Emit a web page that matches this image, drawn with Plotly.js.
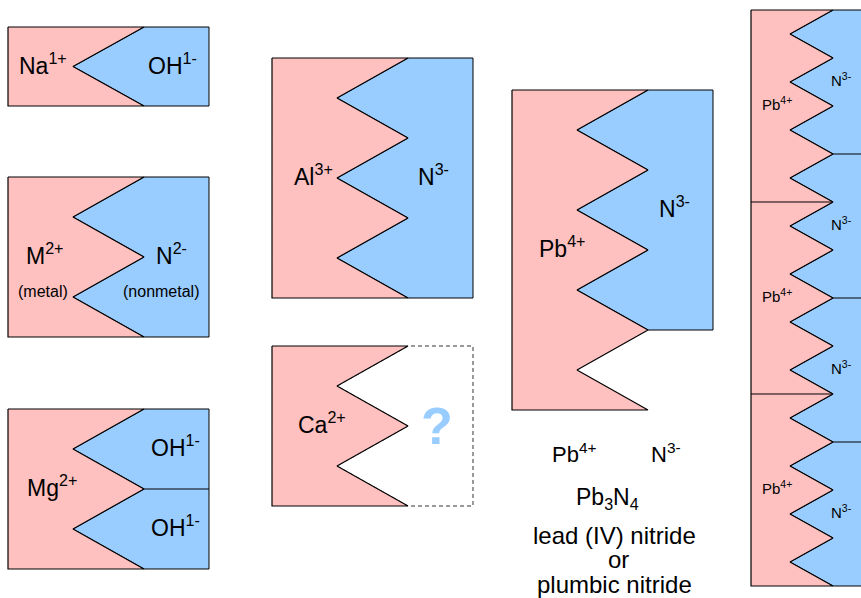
<!DOCTYPE html>
<html><head><meta charset="utf-8">
<script src="https://cdn.plot.ly/plotly-3.0.1.min.js"></script>
<style>html,body{margin:0;padding:0;background:#fff;}#chart{width:861px;height:598px;}</style>
</head><body><div id="chart"></div>
<script>
// ---------------- data ----------------
const cations = ['Na','M','Mg','Al','Ca','Pb','Pb'];
const cationCharges = [1,2,2,3,2,4,4];
const cationCounts = [1,1,1,1,1,1,3];
const anions = ['OH','N','OH','N','?','N','N'];
const anionCharges = [1,2,1,3,2,3,3];
const anionCounts = [1,1,2,1,1,1,4];
const anionKnown = [true,true,true,true,false,true,true];
const cationNotes = ['','(metal)','','','','',''];
const anionNotes = ['','(nonmetal)','','','','',''];
const summaryPanel = 6;
const compoundName = ['lead (IV) nitride','or','plumbic nitride'];

// ---------------- layout (geometry / styles) ----------------
const panelLeft = [8,8,8,272,272,512,751];
const panelTop = [27,177,409,58,346,90,10];
const toothH = [79,80,80,80,80,80,48];
const tipIn = [65,65,65,65,65,65,39];
const vOut = [136,136,136,136,136,136,82];
const panelW = [201,201,201,201,201,201,140];
const catLabelX = [43,45,52,313,322,562,777];
const anLabelX = [172,171,175,433,437,674,841];
const labelFont = [23,23,23,23,23,23,15];
const noteDy = 37;
const labelDy = -3;
const PINK = '#FFC0C0', BLUE = '#99CCFF', INK = '#000000';
const FONT = 'Liberation Sans, Arial, sans-serif';

const traces = [];
const annotations = [];

function zig(p, n) {
  const xs = [], ys = [];
  const L = panelLeft[p], T = panelTop[p], h = toothH[p];
  xs.push(L + vOut[p]); ys.push(T);
  for (let i = 0; i < n; i++) {
    xs.push(L + tipIn[p]); ys.push(T + (i + 0.5) * h);
    xs.push(L + vOut[p]); ys.push(T + (i + 1) * h);
  }
  return [xs, ys];
}
function addLine(xs, ys, w, dash) {
  traces.push({type:'scatter', mode:'lines', x:xs, y:ys, hoverinfo:'skip',
    line:{color:INK, width:w, dash:dash||'solid'}});
}
function ann(x, y, text, size, color, bold) {
  annotations.push({x:x, y:y, xref:'x', yref:'y', text: bold ? '<b>'+text+'</b>' : text,
    showarrow:false, xanchor:'center', yanchor:'middle',
    font:{family:FONT, size:size, color:color||INK}});
}

for (let p = 0; p < cations.length; p++) {
  const L = panelLeft[p], T = panelTop[p], h = toothH[p];
  const nC = cationCharges[p] * cationCounts[p];
  const nA = anionCharges[p] * anionCounts[p];
  // anion polygon
  const [ax, ay] = zig(p, nA);
  const axs = ax.concat([L + panelW[p], L + panelW[p], L + vOut[p]]);
  const ays = ay.concat([T + nA * h, T, T]);
  traces.push({type:'scatter', mode:'lines', x:axs, y:ays, fill:'toself',
    fillcolor: anionKnown[p] ? BLUE : 'rgba(255,255,255,0)', hoverinfo:'skip',
    line:{color: anionKnown[p] ? INK : '#333333', width:1, dash: anionKnown[p] ? 'solid' : '4px,3px'}});
  // cation polygon
  const [cx, cy] = zig(p, nC);
  const cxs = [L].concat(cx).concat([L, L]);
  const cys = [T].concat(cy).concat([T + nC * h, T]);
  traces.push({type:'scatter', mode:'lines', x:cxs, y:cys, fill:'toself',
    fillcolor: PINK, hoverinfo:'skip', line:{color:INK, width:1.2}});
  // separators between units
  for (let j = 1; j < cationCounts[p]; j++) {
    const y = T + j * cationCharges[p] * h;
    addLine([L, L + vOut[p]], [y, y], 1.2);
  }
  for (let j = 1; j < anionCounts[p]; j++) {
    const y = T + j * anionCharges[p] * h;
    addLine([L + vOut[p], L + panelW[p]], [y, y], 1.2);
  }
  // labels
  for (let j = 0; j < cationCounts[p]; j++) {
    const yc = T + (j + 0.5) * cationCharges[p] * h + labelDy;
    ann(catLabelX[p], yc, cations[p] + '<sup>' + cationCharges[p] + '+</sup>', labelFont[p]);
    if (cationNotes[p]) ann(catLabelX[p] - 2, yc + noteDy, cationNotes[p], 16);
  }
  for (let j = 0; j < anionCounts[p]; j++) {
    const yc = T + (j + 0.5) * anionCharges[p] * h + labelDy;
    if (anionKnown[p]) {
      ann(anLabelX[p], yc, anions[p] + '<sup>' + anionCharges[p] + '-</sup>', labelFont[p]);
    } else {
      ann(anLabelX[p], yc + 3, anions[p], 52, BLUE, true);
    }
    if (anionNotes[p]) ann(anLabelX[p] - 10, yc + noteDy, anionNotes[p], 16);
  }
}

// summary text under the Pb / N panel
const s = 5;
ann(574, 453, cations[s] + '<sup>' + cationCharges[s] + '+</sup>', 22);
ann(666, 453, anions[s] + '<sup>' + anionCharges[s] + '-</sup>', 22);
const p6 = summaryPanel;
ann(607, 498, cations[p6] + '<sub>' + cationCounts[p6] + '</sub>' + anions[p6] + '<sub>' + anionCounts[p6] + '</sub>', 23);
ann(614, 535, compoundName[0], 24);
ann(618, 559, compoundName[1], 24);
ann(614, 584, compoundName[2], 24);

const layout = {
  width:861, height:598, margin:{l:0,r:0,t:0,b:0},
  paper_bgcolor:'#ffffff', plot_bgcolor:'#ffffff', showlegend:false,
  xaxis:{range:[0,861], visible:false, fixedrange:true},
  yaxis:{range:[598,0], visible:false, fixedrange:true},
  annotations: annotations
};
Plotly.newPlot('chart', traces, layout, {staticPlot:true, displayModeBar:false});
</script></body></html>
